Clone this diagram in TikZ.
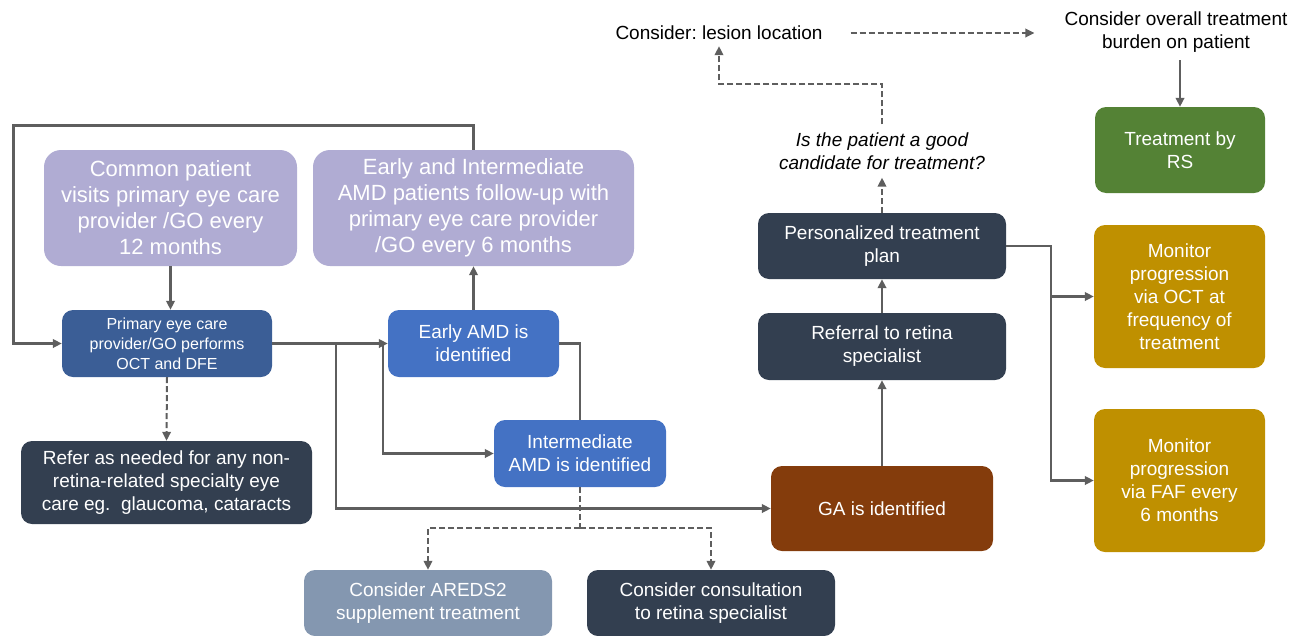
\documentclass[tikz,border=0pt]{standalone}
\usepackage{fontspec}
\setmainfont{Liberation Sans}
\usetikzlibrary{arrows.meta}
\definecolor{lav}{HTML}{B0ACD3}
\definecolor{primc}{HTML}{3B5E96}
\definecolor{bluec}{HTML}{4472C4}
\definecolor{darkc}{HTML}{333F50}
\definecolor{aredc}{HTML}{8497B0}
\definecolor{gac}{HTML}{843C0C}
\definecolor{greenc}{HTML}{548235}
\definecolor{goldc}{HTML}{BF9000}
\definecolor{lc}{HTML}{5E5E5E}
\frenchspacing
\begin{document}
\begin{tikzpicture}[x=1pt,y=-1pt,
  box/.style={rectangle, rounded corners=11pt, text=white, align=center, inner sep=0pt,
    font=\fontsize{19}{23}\selectfont},
  bigbox/.style={box, rounded corners=17pt, fill=lav, font=\fontsize{22}{26}\selectfont},
  ln/.style={draw=lc, line width=2.5pt},
  tip/.style={-{Triangle[length=9pt,width=8.5pt]}},
  arr/.style={ln, tip},
  dsh/.style={ln, line width=2pt, dash pattern=on 6pt off 3pt, tip},
  plain/.style={align=center, inner sep=0pt, font=\fontsize{19}{23}\selectfont}
]
\useasboundingbox (0,0) rectangle (1303,635);

% boxes
\node[bigbox, minimum width=253pt, minimum height=116pt] (common) at (170.5,208)
  {Common patient\\visits primary eye care\\provider /GO every\\12 months};
\node[bigbox, minimum width=321pt, minimum height=116pt] (ei) at (473.5,208)
  {Early and Intermediate\\AMD patients follow-up with\\primary eye care provider\\/GO every 6 months};
\node[box, fill=primc, minimum width=210pt, minimum height=67pt, font=\fontsize{16}{20}\selectfont] (prim) at (167,343.5)
  {Primary eye care\\provider/GO performs\\OCT and DFE};
\node[box, fill=bluec, minimum width=171pt, minimum height=67pt] (eamd) at (473.5,343.5)
  {Early AMD is\\identified};
\node[box, fill=bluec, minimum width=172pt, minimum height=67pt] (iamd) at (580,453.5)
  {Intermediate\\AMD is identified};
\node[box, fill=darkc, minimum width=291pt, minimum height=83pt] (refer) at (166.5,482.5)
  {Refer as needed for any non-\\retina-related specialty eye\\care eg.\ \ glaucoma, cataracts};
\node[box, fill=aredc, minimum width=248pt, minimum height=66pt] (areds) at (428,603)
  {Consider AREDS2\\supplement treatment};
\node[box, fill=darkc, minimum width=248pt, minimum height=66pt] (cons) at (711,603)
  {Consider consultation\\to retina specialist};
\node[box, fill=gac, minimum width=222pt, minimum height=85pt] (ga) at (882,508.5)
  {GA is identified};
\node[box, fill=darkc, minimum width=248pt, minimum height=67pt] (ref) at (882,346.5)
  {Referral to retina\\specialist};
\node[box, fill=darkc, minimum width=248pt, minimum height=66pt] (pers) at (882,246)
  {Personalized treatment\\plan};
\node[box, fill=greenc, minimum width=170pt, minimum height=86pt] (treat) at (1180,150)
  {Treatment by\\RS};
\node[box, fill=goldc, minimum width=171pt, minimum height=143pt] (oct) at (1179.5,296.5)
  {Monitor\\progression\\via OCT at\\frequency of\\treatment};
\node[box, fill=goldc, minimum width=171pt, minimum height=143pt] (faf) at (1179.5,480.5)
  {Monitor\\progression\\via FAF every\\6 months};

% free texts
\node[plain, inner ysep=8pt, font=\fontsize{19}{23}\selectfont\itshape] (cand) at (882,151)
  {Is the patient a good\\candidate for treatment?};
\node[plain, inner ysep=6pt] (lesion) at (719,33) {Consider: lesion location};
\node[plain] (burden) at (1176,32) {Consider overall treatment\\burden on patient};

% junction coordinates
\coordinate (j1) at (336,343.5);
\coordinate (j2) at (383,343.5);
\coordinate (j3) at (580,528);
\coordinate (j4) at (1051,246);

% connectors
\draw[arr, line width=3pt] (ei.north) |- (13,125) |- (prim.west);
\draw[arr] (common.south) -- (common.south |- prim.north);
\draw[arr] (prim.east) -- (eamd.west);
\draw[arr] (j1) |- (ga.west);
\draw[arr] (j2) |- (iamd.west);
\draw[arr] (eamd.north) -- (ei.south);
\draw[ln] (eamd.east) -| (iamd.north);
\draw[dsh, -] (iamd.south) -- (j3);
\draw[dsh] (j3) -| (areds.north);
\draw[dsh] (j3) -| (cons.north);
\draw[dsh] (prim.south) -- (refer.north);
\draw[arr] (ga.north) -- (ref.south);
\draw[arr] (ref.north) -- (pers.south);
\draw[dsh] (pers.north) -- (cand.south);
\draw[dsh] (cand.north) |- (lesion.south |- 0,84) -- (lesion.south);
\draw[dsh, shorten <=28pt, shorten >=30pt] (lesion.east) -- (burden.west |- lesion.east);
\draw[arr] (treat.north |- 0,60) -- (treat.north);
\draw[arr] (pers.east) -| (j4 |- oct.west) -- (oct.west);
\draw[arr] (j4 |- oct.west) |- (faf.west);
\end{tikzpicture}
\end{document}
